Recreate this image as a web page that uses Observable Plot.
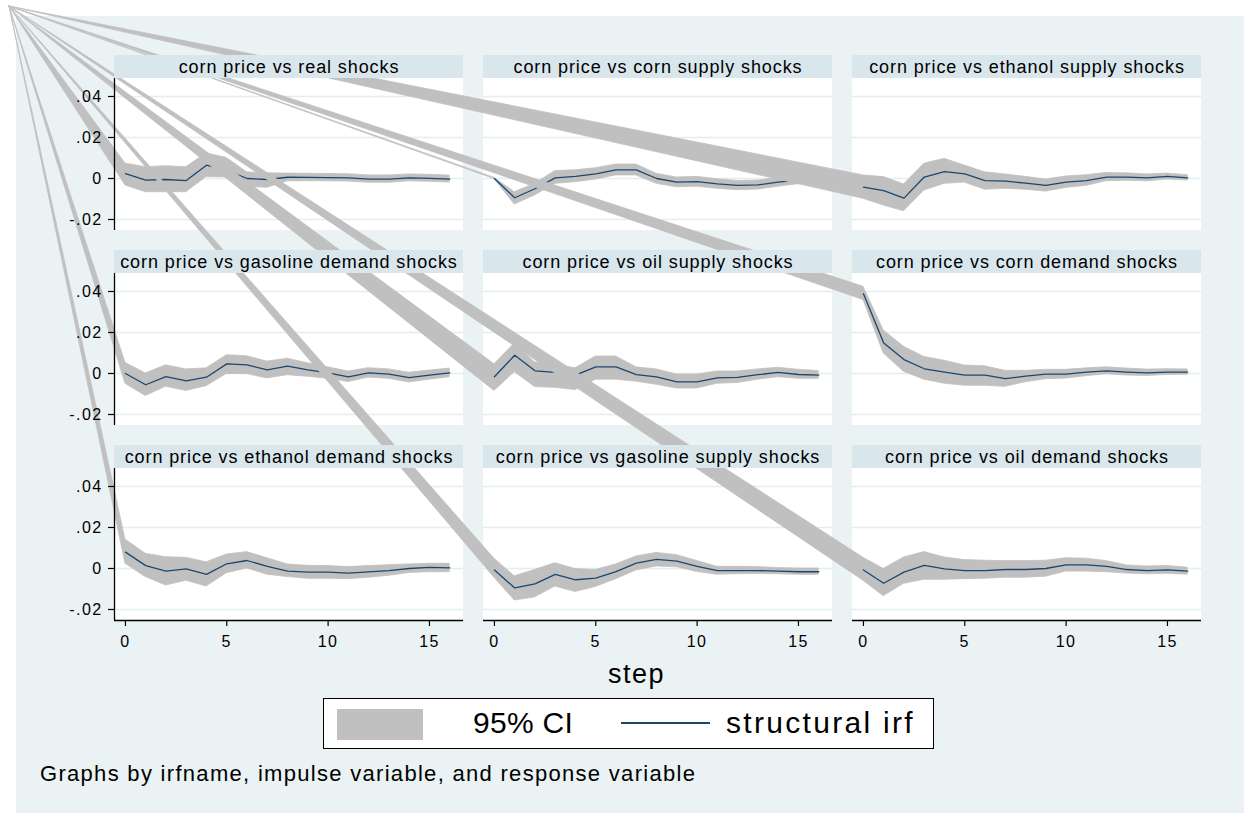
<!DOCTYPE html>
<html>
<head>
<meta charset="utf-8">
<script src="https://cdn.jsdelivr.net/npm/d3@7"></script>
<script src="https://cdn.jsdelivr.net/npm/@observablehq/plot@0.6"></script>
<style>
  html, body { margin: 0; padding: 0; background: #ffffff; }
  #page { position: relative; width: 1251px; height: 818px; background: #ffffff; overflow: hidden;
          font-family: "Liberation Sans", Arial, Helvetica, sans-serif; color: #000; }
  #bg { position: absolute; left: 16px; top: 16px; width: 1228px; height: 797px; background: #eaf2f3; }
  #chart { position: absolute; left: 0; top: 0; }
  #chart svg text { letter-spacing: 0.9px; }
  #chart svg g[aria-label="y-axis tick label"] text, #chart svg g[aria-label="x-axis tick label"] text { letter-spacing: 1.4px; }
  #xtitle { position: absolute; left: 0; width: 1251px; top: 659px; text-align: center; font-size: 27px;
            letter-spacing: 1.5px; padding-left: 22px; box-sizing: border-box; }
  #legend { position: absolute; left: 323px; top: 698px; width: 609px; height: 49px; background: #fff;
            border: 1.5px solid #000; }
  #legend .sw { position: absolute; left: 13px; top: 10px; width: 86px; height: 31px; background: #c0c0c0; }
  #legend .l1 { position: absolute; left: 149px; top: 8px; font-size: 30px; line-height: 32px; letter-spacing: 0.3px; white-space: nowrap; }
  #legend .ln { position: absolute; left: 297px; top: 23px; width: 89px; height: 0; border-top: 2px solid #1a476f; }
  #legend .l2 { position: absolute; left: 402px; top: 8px; font-size: 30px; line-height: 32px; letter-spacing: 2.3px; white-space: nowrap; }
  #note { position: absolute; left: 40px; top: 761px; font-size: 22px; line-height: 26px; letter-spacing: 1.3px; white-space: nowrap; }
</style>
</head>
<body>
<div id="page">
  <div id="bg"></div>
  <div id="chart"></div>
  <div id="xtitle">step</div>
  <div id="legend"><span class="sw"></span><span class="l1">95% CI</span><span class="ln"></span><span class="l2">structural irf</span></div>
  <div id="note">Graphs by irfname, impulse variable, and response variable</div>
</div>
<script>
// ---------------- data ----------------
const steps = [0, 1, 2, 3, 4, 5, 6, 7, 8, 9, 10, 11, 12, 13, 14, 15, 16];

const panelTitles = [
  "corn price vs real shocks",
  "corn price vs corn supply shocks",
  "corn price vs ethanol supply shocks",
  "corn price vs gasoline demand shocks",
  "corn price vs oil supply shocks",
  "corn price vs corn demand shocks",
  "corn price vs ethanol demand shocks",
  "corn price vs gasoline supply shocks",
  "corn price vs oil demand shocks"
];
const panelRows = [1, 1, 1, 2, 2, 2, 3, 3, 3];
const panelCols = [1, 2, 3, 1, 2, 3, 1, 2, 3];

// structural irf
const irfReal = [0.0024, -0.0008, -0.0005, -0.0010, 0.0065, 0.0040, 0.0000, -0.0005, 0.0006, 0.0005, 0.0004, 0.0003, -0.0003, -0.0003, 0.0003, 0.0001, -0.0003];
const irfCornSupply = [0.0000, -0.0094, -0.0050, 0.0003, 0.0010, 0.0023, 0.0042, 0.0042, 0.0000, -0.0018, -0.0015, -0.0026, -0.0034, -0.0031, -0.0018, -0.0008, -0.0005];
const irfEthanolSupply = [-0.0042, -0.0059, -0.0096, 0.0007, 0.0034, 0.0023, -0.0010, -0.0013, -0.0023, -0.0034, -0.0018, -0.0010, 0.0007, 0.0007, 0.0003, 0.0010, 0.0003];
const irfGasolineDemand = [0.0000, -0.0055, -0.0015, -0.0036, -0.0018, 0.0047, 0.0042, 0.0018, 0.0036, 0.0018, 0.0003, -0.0016, 0.0003, -0.0003, -0.0020, -0.0008, 0.0003];
const irfOilSupply = [-0.0016, 0.0089, 0.0013, 0.0005, -0.0008, 0.0032, 0.0032, -0.0006, -0.0016, -0.0041, -0.0041, -0.0021, -0.0019, -0.0006, 0.0005, -0.0005, -0.0008];
const irfCornDemand = [0.0389, 0.0149, 0.0068, 0.0023, 0.0007, -0.0008, -0.0008, -0.0025, -0.0013, -0.0003, -0.0003, 0.0007, 0.0013, 0.0007, 0.0003, 0.0007, 0.0007];
const irfEthanolDemand = [0.0080, 0.0014, -0.0013, -0.0002, -0.0029, 0.0023, 0.0039, 0.0010, -0.0013, -0.0018, -0.0018, -0.0023, -0.0016, -0.0010, 0.0000, 0.0005, 0.0003];
const irfGasolineSupply = [-0.0007, -0.0095, -0.0075, -0.0029, -0.0055, -0.0047, -0.0015, 0.0026, 0.0044, 0.0036, 0.0010, -0.0010, -0.0010, -0.0010, -0.0013, -0.0016, -0.0016];
const irfOilDemand = [-0.0007, -0.0072, -0.0018, 0.0015, -0.0002, -0.0010, -0.0010, -0.0005, -0.0005, 0.0000, 0.0018, 0.0018, 0.0010, -0.0005, -0.0010, -0.0007, -0.0013];

// 95% CI upper bounds
const hiReal = [0.0073, 0.0055, 0.0060, 0.0055, 0.0123, 0.0100, 0.0030, 0.0025, 0.0024, 0.0023, 0.0022, 0.0021, 0.0015, 0.0015, 0.0020, 0.0018, 0.0014];
const hiCornSupply = [0.0003, -0.0067, -0.0026, 0.0036, 0.0040, 0.0050, 0.0068, 0.0068, 0.0023, 0.0005, 0.0008, -0.0004, -0.0012, -0.0010, 0.0002, 0.0010, 0.0012];
const hiEthanolSupply = [0.0015, 0.0007, -0.0029, 0.0072, 0.0096, 0.0063, 0.0030, 0.0020, 0.0008, -0.0005, 0.0010, 0.0016, 0.0027, 0.0025, 0.0020, 0.0024, 0.0016];
const hiGasolineDemand = [0.0052, 0.0000, 0.0040, 0.0020, 0.0025, 0.0089, 0.0084, 0.0058, 0.0072, 0.0050, 0.0030, 0.0010, 0.0026, 0.0020, 0.0004, 0.0014, 0.0024];
const hiOilSupply = [0.0045, 0.0146, 0.0054, 0.0042, 0.0026, 0.0083, 0.0083, 0.0030, 0.0020, -0.0005, -0.0005, 0.0010, 0.0010, 0.0020, 0.0028, 0.0018, 0.0012];
const hiCornDemand = [0.0423, 0.0210, 0.0130, 0.0081, 0.0062, 0.0039, 0.0035, 0.0013, 0.0013, 0.0018, 0.0018, 0.0025, 0.0030, 0.0024, 0.0019, 0.0021, 0.0020];
const hiEthanolDemand = [0.0141, 0.0072, 0.0055, 0.0052, 0.0030, 0.0068, 0.0080, 0.0050, 0.0020, 0.0013, 0.0012, 0.0007, 0.0012, 0.0016, 0.0020, 0.0023, 0.0023];
const hiGasolineSupply = [0.0047, -0.0038, -0.0007, 0.0026, -0.0003, -0.0007, 0.0020, 0.0059, 0.0076, 0.0065, 0.0037, 0.0008, 0.0008, 0.0007, 0.0002, 0.0000, 0.0000];
const hiOilDemand = [0.0052, -0.0002, 0.0054, 0.0080, 0.0054, 0.0041, 0.0038, 0.0036, 0.0036, 0.0038, 0.0050, 0.0048, 0.0036, 0.0015, 0.0010, 0.0012, 0.0004];

// 95% CI lower bounds
const loReal = [-0.0034, -0.0067, -0.0067, -0.0067, 0.0007, 0.0005, -0.0042, -0.0045, -0.0014, -0.0013, -0.0014, -0.0015, -0.0021, -0.0021, -0.0014, -0.0016, -0.0020];
const loCornSupply = [-0.0003, -0.0127, -0.0083, -0.0026, -0.0018, -0.0005, 0.0015, 0.0015, -0.0026, -0.0043, -0.0040, -0.0050, -0.0057, -0.0054, -0.0040, -0.0028, -0.0024];
const loEthanolSupply = [-0.0099, -0.0132, -0.0160, -0.0059, -0.0026, -0.0020, -0.0055, -0.0050, -0.0055, -0.0064, -0.0046, -0.0036, -0.0013, -0.0011, -0.0014, -0.0005, -0.0010];
const loGasolineDemand = [-0.0050, -0.0110, -0.0065, -0.0085, -0.0062, -0.0002, -0.0003, -0.0024, -0.0008, -0.0016, -0.0026, -0.0042, -0.0020, -0.0026, -0.0044, -0.0030, -0.0018];
const loOilSupply = [-0.0085, 0.0007, -0.0066, -0.0070, -0.0081, -0.0030, -0.0030, -0.0040, -0.0055, -0.0073, -0.0073, -0.0050, -0.0046, -0.0030, -0.0018, -0.0026, -0.0026];
const loCornDemand = [0.0358, 0.0098, 0.0008, -0.0030, -0.0050, -0.0060, -0.0060, -0.0065, -0.0043, -0.0028, -0.0025, -0.0013, -0.0004, -0.0010, -0.0012, -0.0007, -0.0006];
const loEthanolDemand = [0.0023, -0.0042, -0.0083, -0.0060, -0.0088, -0.0023, 0.0000, -0.0030, -0.0042, -0.0050, -0.0050, -0.0052, -0.0045, -0.0036, -0.0022, -0.0018, -0.0018];
const loGasolineSupply = [-0.0045, -0.0156, -0.0141, -0.0088, -0.0115, -0.0090, -0.0052, -0.0010, 0.0010, 0.0006, -0.0017, -0.0030, -0.0028, -0.0027, -0.0028, -0.0031, -0.0031];
const loOilDemand = [-0.0060, -0.0135, -0.0075, -0.0055, -0.0055, -0.0052, -0.0050, -0.0045, -0.0045, -0.0040, -0.0015, -0.0015, -0.0018, -0.0025, -0.0028, -0.0026, -0.0030];

const irfSeries = [irfReal, irfCornSupply, irfEthanolSupply, irfGasolineDemand, irfOilSupply, irfCornDemand, irfEthanolDemand, irfGasolineSupply, irfOilDemand];
const hiSeries = [hiReal, hiCornSupply, hiEthanolSupply, hiGasolineDemand, hiOilSupply, hiCornDemand, hiEthanolDemand, hiGasolineSupply, hiOilDemand];
const loSeries = [loReal, loCornSupply, loEthanolSupply, loGasolineDemand, loOilSupply, loCornDemand, loEthanolDemand, loGasolineSupply, loOilDemand];

// axis ticks
const yTicks = [-0.02, 0, 0.02, 0.04];
const yTickLabels = ["-.02", "0", ".02", ".04"];
const xTicks = [0, 5, 10, 15];

// ---------------- layout / style ----------------
const X_DOMAIN = [-0.54, 16.68];
const Y_DOMAIN = [-0.02537, 0.06];   // the top slice holds the panel header strip
const Y_PLOT_TOP = 0.04878;          // boundary between plot region and header strip
const ARTIFACT_ORIGIN = [9, 6];      // page point that the CI polygons are (wrongly) anchored to
const STRIP = "#d9e6eb", GRID = "#e4edef", CI = "#c0c0c0", NAVY = "#1a476f";

const panels = panelTitles.map((title, i) => ({i, title, row: panelRows[i], col: panelCols[i]}));
const series = panels.map(p => steps.map((s, k) => ({
  step: s, irf: irfSeries[p.i][k], lo: loSeries[p.i][k], hi: hiSeries[p.i][k], row: p.row, col: p.col
})));
const grid = panels.flatMap(p => yTicks.map(v => ({v, row: p.row, col: p.col})));

function config(origins) {
  const fc = {fx: "col", fy: "row"};
  const marks = [
    Plot.rect(panels, {...fc, x1: () => X_DOMAIN[0], x2: () => X_DOMAIN[1], y1: () => Y_DOMAIN[0], y2: () => Y_PLOT_TOP, fill: "#ffffff"}),
    Plot.ruleY(grid, {...fc, y: "v", stroke: GRID, strokeWidth: 1.3})
  ];
  panels.forEach((p, j) => {
    let band = series[j];
    if (origins) band = [{...band[0], step: origins[j][0], lo: origins[j][1], hi: origins[j][1]}, ...band];
    marks.push(Plot.area(band, {...fc, x1: "step", y1: "lo", y2: "hi", fill: CI, stroke: CI, strokeWidth: 0.8}));
    marks.push(Plot.line(series[j], {...fc, x: "step", y: "irf", stroke: NAVY, strokeWidth: 1.3}));
  });
  marks.push(
    Plot.rect(panels, {...fc, x1: () => X_DOMAIN[0], x2: () => X_DOMAIN[1], y1: () => Y_PLOT_TOP, y2: () => Y_DOMAIN[1], fill: STRIP}),
    Plot.text(panels, {...fc, x: () => (X_DOMAIN[0] + X_DOMAIN[1]) / 2, y: () => (Y_PLOT_TOP + Y_DOMAIN[1]) / 2,
      text: "title", fontSize: 18, fill: "#000"}),
    Plot.ruleX(panels.filter(p => p.col === 1), {...fc, x: () => X_DOMAIN[0], y1: () => Y_DOMAIN[0], y2: () => Y_PLOT_TOP, stroke: "#000", strokeWidth: 1.3}),
    Plot.ruleY(panels.filter(p => p.row === 3), {...fc, y: () => Y_DOMAIN[0], stroke: "#000", strokeWidth: 1.3}),
    Plot.axisY(yTicks, {facetAnchor: "left", tickSize: 6, tickPadding: 6, tickFormat: d => yTickLabels[yTicks.indexOf(d)],
      fontSize: 16, label: null, stroke: "#000", strokeWidth: 1.2}),
    Plot.axisX(xTicks, {facetAnchor: "bottom", tickSize: 6, tickPadding: 9, fontSize: 16, label: null, stroke: "#000", strokeWidth: 1.2})
  );
  return {
    width: 1251, height: 660,
    marginLeft: 113, marginRight: 49, marginTop: 55, marginBottom: 40,
    style: {background: "transparent", fontFamily: "'Liberation Sans', Arial, sans-serif", color: "#000", overflow: "visible"},
    x: {domain: X_DOMAIN, axis: null},
    y: {domain: Y_DOMAIN, axis: null},
    fx: {domain: [1, 2, 3], paddingInner: 20 / 369.67, paddingOuter: 0, axis: null},
    fy: {domain: [1, 2, 3], paddingInner: 20 / 195, paddingOuter: 0, axis: null},
    marks
  };
}

// first pass: obtain the scales, then map the artifact anchor into each panel's data space
const probe = Plot.plot(config(null));
const sx = probe.scale("x"), sy = probe.scale("y"), sfx = probe.scale("fx"), sfy = probe.scale("fy");
const x0 = Math.min(...sx.range), y0 = Math.min(...sy.range);
const origins = panels.map(p => [
  sx.invert(ARTIFACT_ORIGIN[0] - sfx.apply(p.col) + x0),
  sy.invert(ARTIFACT_ORIGIN[1] - sfy.apply(p.row) + y0)
]);
document.getElementById("chart").appendChild(Plot.plot(config(origins)));
</script>
</body>
</html>
